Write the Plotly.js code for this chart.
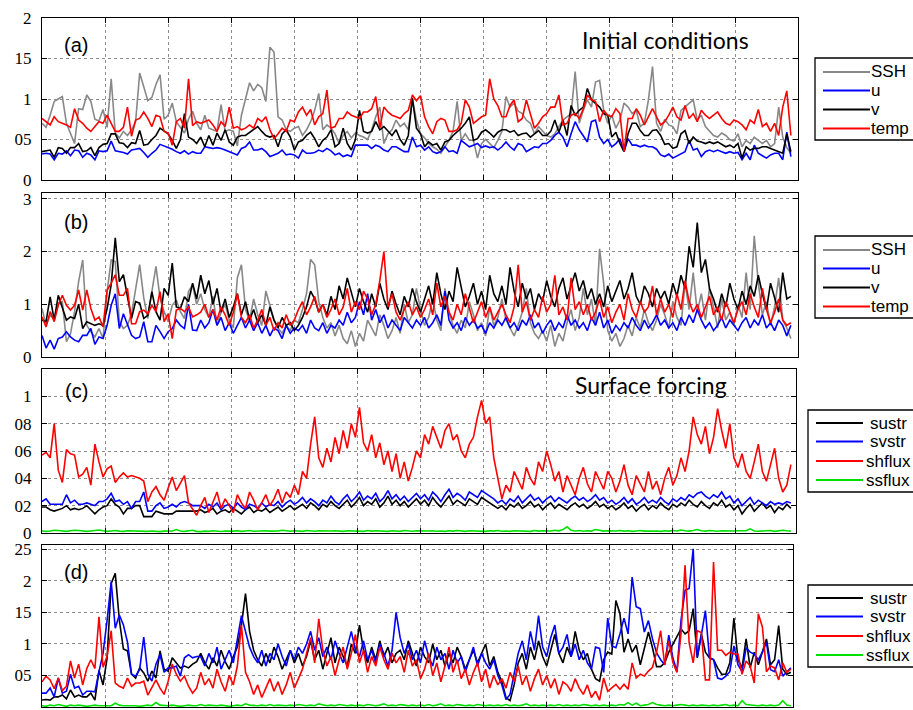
<!DOCTYPE html>
<html><head><meta charset="utf-8">
<script src="https://cdn.plot.ly/plotly-3.0.1.min.js"></script>
<style>html,body{margin:0;padding:0;background:#fff}#chart{width:913px;height:710px}</style>
</head><body><div id="chart"></div>
<script>
// ---------- Panel (a): Initial conditions ----------
const a_SSH = [
0.70,0.65,0.80,0.97,1.00,1.03,0.70,0.58,0.45,0.88,0.87,1.05,0.97,0.75,0.73,0.87,
0.65,1.25,0.58,0.52,0.60,0.55,0.62,0.72,1.32,1.15,0.98,1.02,1.18,1.30,0.75,
0.80,0.95,0.72,0.65,0.58,0.75,0.85,0.70,0.62,0.80,0.64,0.62,0.60,0.93,0.60,0.62,
0.60,0.42,0.80,1.00,1.20,1.10,1.18,1.14,0.97,1.64,1.58,0.78,0.74,0.62,0.60,
0.64,0.66,0.55,0.62,0.72,0.86,1.07,0.62,0.68,0.64,0.57,0.45,0.55,0.60,0.52,0.58,
0.55,0.53,0.50,0.62,0.78,0.90,0.45,0.57,0.62,0.74,0.66,0.70,0.62,1.00,0.74,
0.57,0.52,0.45,0.41,0.38,0.33,0.41,0.49,0.60,0.97,0.49,0.57,0.49,0.49,0.27,0.45,
0.50,0.45,0.40,0.49,0.60,1.03,0.90,0.95,0.85,0.82,0.74,0.70,0.57,0.66,0.60,
0.55,0.53,0.57,0.66,0.74,0.78,0.82,1.34,0.70,0.86,0.99,0.90,1.21,1.23,0.86,0.70,
0.80,0.64,0.74,0.95,0.90,0.82,0.86,0.66,0.70,0.99,1.40,0.70,0.60,0.75,0.68,
0.66,0.57,0.86,0.90,0.95,0.99,0.74,0.80,0.66,0.60,0.55,0.53,0.58,0.55,0.50,0.48,
0.57,0.41,0.49,0.45,0.53,0.49,0.45,0.49,0.41,0.45,0.90,0.53,0.40,0.33];
const a_u = [
0.32,0.33,0.32,0.25,0.33,0.32,0.36,0.30,0.37,0.36,0.28,0.33,0.31,0.25,0.36,0.35,
0.36,0.48,0.36,0.35,0.34,0.32,0.37,0.38,0.39,0.34,0.28,0.33,0.37,0.44,0.42,
0.40,0.38,0.35,0.33,0.36,0.32,0.35,0.33,0.33,0.41,0.40,0.39,0.40,0.39,0.37,0.35,
0.33,0.31,0.39,0.41,0.47,0.37,0.37,0.39,0.35,0.29,0.31,0.33,0.37,0.31,0.32,
0.31,0.27,0.37,0.33,0.33,0.34,0.37,0.35,0.39,0.36,0.31,0.33,0.29,0.31,0.29,0.43,
0.43,0.43,0.43,0.39,0.43,0.41,0.37,0.35,0.41,0.41,0.38,0.35,0.35,0.53,0.41,
0.43,0.37,0.41,0.35,0.33,0.35,0.41,0.35,0.36,0.33,0.49,0.45,0.41,0.43,0.45,0.40,
0.42,0.40,0.41,0.37,0.41,0.47,0.41,0.37,0.45,0.43,0.35,0.38,0.41,0.40,0.45,
0.45,0.49,0.55,0.59,0.53,0.41,0.57,0.72,0.62,0.55,0.47,0.72,0.74,0.53,0.45,0.50,
0.41,0.45,0.51,0.35,0.51,0.43,0.43,0.41,0.43,0.41,0.41,0.38,0.31,0.29,0.32,
0.27,0.30,0.33,0.35,0.49,0.37,0.39,0.29,0.35,0.37,0.35,0.37,0.35,0.33,0.35,0.33,
0.34,0.25,0.33,0.25,0.43,0.33,0.30,0.27,0.31,0.33,0.33,0.25,0.59,0.29];
const a_v = [
0.35,0.36,0.37,0.28,0.40,0.39,0.33,0.40,0.40,0.45,0.35,0.36,0.40,0.30,0.40,0.44,
0.45,0.57,0.57,0.46,0.45,0.40,0.46,0.45,0.61,0.43,0.44,0.50,0.55,0.64,0.61,
0.57,0.49,0.39,0.50,0.82,0.53,0.50,0.45,0.53,0.41,0.55,0.43,0.58,0.49,0.62,0.47,
0.43,0.53,0.55,0.55,0.59,0.62,0.66,0.60,0.55,0.53,0.55,0.41,0.57,0.62,0.53,
0.37,0.47,0.49,0.55,0.59,0.51,0.41,0.49,0.53,0.62,0.41,0.45,0.64,0.45,0.37,0.50,
0.86,0.60,0.58,0.60,0.72,0.62,0.66,0.60,0.55,0.62,0.50,0.43,0.55,1.01,0.64,
0.57,0.41,0.47,0.43,0.45,0.37,0.47,0.49,0.55,0.59,0.64,0.70,0.78,0.49,0.51,0.59,
0.62,0.58,0.53,0.59,0.62,0.62,0.59,0.61,0.55,0.57,0.58,0.53,0.57,0.61,0.55,
0.55,0.60,0.74,0.59,0.74,0.55,0.92,0.80,0.86,0.90,1.13,0.99,0.95,0.90,0.82,0.80,
0.53,0.59,0.45,0.35,0.57,0.70,0.70,0.61,0.55,0.55,0.61,0.62,0.55,0.44,0.45,
0.39,0.41,0.57,0.61,0.45,0.53,0.48,0.47,0.45,0.47,0.45,0.47,0.44,0.41,0.43,0.40,
0.45,0.27,0.41,0.37,0.39,0.39,0.41,0.41,0.39,0.37,0.35,0.33,0.57,0.35];
const a_temp = [
0.76,0.72,0.68,0.78,0.72,0.70,0.68,0.65,0.88,0.74,0.70,0.64,0.60,0.66,0.72,0.70,
0.80,0.70,0.60,0.60,0.65,0.90,0.54,0.74,0.76,0.84,0.76,0.66,0.80,0.78,0.60,
0.58,0.43,0.72,0.76,0.64,1.25,0.67,0.72,0.70,0.72,0.74,0.68,0.60,0.72,0.66,0.90,
0.64,0.66,0.62,0.64,0.68,0.64,0.76,0.72,0.78,0.62,0.51,0.57,0.64,0.60,0.74,
0.72,0.84,0.90,0.80,0.87,0.68,0.78,0.82,1.11,0.64,0.66,0.76,0.76,0.84,0.80,0.78,
0.76,0.84,0.84,0.88,1.03,0.64,0.90,0.84,0.80,0.78,0.76,0.82,0.86,1.05,0.98,
1.04,0.78,0.66,0.57,0.72,0.76,0.74,0.60,0.60,0.62,0.70,0.99,0.90,0.70,0.74,0.78,
0.80,1.25,1.00,0.92,0.78,0.78,0.92,0.99,0.72,0.76,0.99,0.80,0.64,0.70,0.78,
0.82,0.90,0.90,1.05,0.68,0.70,0.80,0.82,0.76,0.88,1.05,0.99,0.97,0.72,0.86,0.80,
0.78,0.88,0.82,0.35,0.76,0.76,0.88,0.80,0.68,0.78,0.88,0.78,0.68,0.72,0.80,
0.90,0.78,0.74,0.92,0.76,0.82,0.72,0.86,0.80,0.76,0.80,0.84,0.76,0.70,0.68,0.74,
0.72,0.68,0.62,0.74,0.70,0.87,0.66,0.70,0.60,0.70,0.55,0.90,1.10,0.55];

// ---------- Panel (b) ----------
const b_SSH = [
0.92,0.60,0.79,0.73,1.02,1.05,0.29,0.44,0.86,1.43,1.84,0.60,0.48,0.38,0.54,0.35,1.24,1.84,1.81,0.67,
0.54,0.60,0.82,1.30,1.75,1.12,0.73,1.24,1.72,1.12,0.86,0.67,0.98,1.08,0.86,0.73,1.24,1.37,1.00,
1.20,0.90,0.75,1.15,0.60,0.85,1.00,0.70,0.55,1.50,1.75,0.90,0.70,1.10,0.80,
0.60,1.25,0.95,0.70,0.55,0.45,0.60,0.50,0.70,0.65,
0.90,1.20,1.85,1.75,1.05,0.75,0.55,0.65,0.40,0.60,
0.35,0.25,0.50,0.20,0.45,0.30,0.70,0.55,0.40,0.80,0.60,0.35,0.50,0.75,0.45,1.00,0.65,0.80,1.30,0.90,
0.60,0.75,1.10,0.70,0.50,1.30,0.85,0.60,0.45,0.70,0.55,1.05,0.80,0.50,0.65,0.40,0.95,0.60,0.75,
1.10,0.70,0.55,0.40,0.60,0.85,1.30,0.65,0.45,0.35,0.50,0.30,0.60,0.20,0.45,0.30,0.65,0.90,0.50,0.75,
1.30,0.80,1.10,0.60,2.05,1.40,0.50,0.30,0.45,0.20,0.35,0.60,0.40,0.75,0.55,0.90,0.65,0.50,0.70,1.00,
0.80,0.55,1.05,0.75,0.60,1.40,0.90,1.60,0.85,1.20,0.70,1.30,0.95,0.55,1.10,0.70,0.85,0.60,1.00,
0.75,1.60,0.90,2.30,1.40,0.80,1.05,0.60,0.95,1.50,0.70,0.55,0.35];
const b_u = [
0.41,0.17,0.32,0.15,0.35,0.38,0.48,0.38,0.32,0.29,0.41,0.41,0.54,0.24,0.38,0.35,0.60,0.98,1.20,0.54,
0.82,0.60,0.41,0.35,0.38,0.67,0.29,0.29,0.60,0.48,0.35,0.48,0.54,0.70,0.60,0.54,1.00,0.51,0.50,
0.70,0.55,0.65,0.90,0.60,0.75,0.50,0.65,0.45,0.60,0.75,0.55,0.70,0.50,0.65,
0.45,0.60,0.40,0.55,0.50,0.35,0.60,0.45,0.55,0.50,
0.60,0.45,0.70,0.55,0.50,0.65,0.45,0.60,0.55,0.70,
0.60,0.85,0.65,0.75,1.05,0.80,1.20,0.70,0.90,0.65,0.80,0.55,0.70,0.60,0.50,0.75,0.65,0.55,0.70,0.60,
0.75,0.55,0.65,0.80,0.60,1.25,0.70,0.55,0.65,0.50,0.75,0.60,0.70,0.55,0.60,0.45,0.65,0.55,0.70,
0.60,0.75,0.55,0.65,0.50,0.70,0.60,0.80,0.55,0.65,0.45,0.60,0.70,0.50,0.65,0.55,0.80,0.60,0.70,0.55,
0.65,0.50,0.75,0.60,0.85,0.55,0.70,0.45,0.60,0.50,0.65,0.55,0.75,0.60,0.50,0.70,0.55,0.65,0.80,0.60,
0.70,0.55,0.65,0.50,0.75,0.60,0.80,0.65,0.90,0.70,0.55,0.65,0.50,0.60,0.75,0.55,0.70,0.60,0.50,
0.65,0.75,0.55,0.70,0.60,0.80,0.55,0.65,0.50,0.70,0.60,0.40,0.60];
const b_v = [
0.70,0.67,1.14,0.70,1.17,0.92,0.70,0.76,0.73,1.00,0.54,0.67,0.63,0.60,0.63,0.60,0.92,1.37,2.26,1.43,
1.56,1.17,0.73,1.05,1.02,0.73,0.79,1.24,0.86,0.70,1.30,1.17,1.78,0.95,0.92,1.14,1.05,1.40,1.10,
1.55,1.20,1.45,1.00,1.30,0.85,1.10,0.75,0.95,1.20,0.80,1.05,0.70,0.90,0.65,
0.80,0.60,0.95,0.70,0.55,0.75,0.60,0.65,0.50,0.60,
0.75,0.95,1.25,1.10,0.85,1.00,0.80,1.15,0.90,1.35,
1.10,1.50,1.20,0.95,1.30,1.05,0.85,1.20,0.95,1.40,1.10,0.90,1.25,1.00,0.80,1.15,0.95,1.30,1.05,0.85,
1.10,1.35,1.00,1.60,1.20,0.90,1.25,1.05,1.70,1.30,0.95,1.15,1.40,1.00,1.25,0.90,1.55,1.20,1.05,
1.35,1.00,1.70,1.25,0.95,1.40,1.10,1.30,0.90,1.20,1.05,1.45,1.15,0.95,1.30,1.50,1.10,1.35,1.60,1.25,
1.45,1.10,1.30,1.00,1.20,0.95,1.35,1.05,1.25,1.45,1.10,1.30,1.60,1.15,1.00,1.35,1.20,0.95,1.30,1.10,
1.25,1.00,1.40,1.15,1.55,1.30,2.10,1.70,2.55,1.60,1.85,1.30,1.10,0.85,1.20,0.95,1.40,1.10,0.90,
1.25,1.00,1.35,1.15,1.55,1.20,0.90,1.40,1.10,0.85,1.60,1.10,1.15];
const b_temp = [
0.76,0.57,0.86,0.67,0.98,1.17,0.98,0.89,0.98,1.27,0.89,1.27,0.92,0.70,0.76,0.57,1.27,1.40,1.56,1.17,
1.17,1.30,0.63,0.63,0.86,0.89,0.82,0.98,0.86,1.24,0.67,0.82,0.35,0.89,0.92,0.86,0.95,0.76,0.80,
0.85,1.00,0.75,0.90,0.70,0.95,0.80,0.60,0.85,1.20,0.75,0.65,0.80,0.55,0.70,
0.90,0.60,0.75,0.50,0.65,0.55,0.80,0.60,0.70,0.90,
1.05,0.80,0.95,1.15,0.85,1.00,0.75,0.90,1.10,0.80,
0.95,1.30,0.85,1.05,0.90,1.25,1.10,0.80,1.00,1.45,2.00,0.95,1.20,0.85,0.70,0.90,1.05,0.80,0.95,0.75,
0.90,1.10,0.80,1.40,0.95,1.15,0.85,0.70,1.00,0.80,1.20,0.90,0.65,0.85,1.05,0.75,0.95,0.70,0.85,
1.00,0.80,0.65,0.95,1.75,0.85,1.05,0.70,0.90,0.75,1.15,0.85,1.00,1.55,0.80,0.95,0.70,1.50,0.90,1.05,
0.80,1.00,0.70,0.85,1.10,0.75,0.95,0.65,0.85,1.00,0.70,1.20,0.90,0.75,1.05,0.85,0.95,1.35,0.80,1.10,
0.85,1.00,0.75,1.20,0.90,1.45,1.05,0.85,1.00,0.75,0.95,1.15,0.80,0.95,0.70,1.05,0.85,0.65,0.90,
1.05,0.80,1.20,0.95,0.75,1.30,0.90,0.65,0.85,1.10,0.70,0.60,0.65];

// ---------- Panel (c): Surface forcing ----------
const c_sustr = [
0.19,0.19,0.17,0.16,0.17,0.18,0.20,0.17,0.18,0.17,0.18,0.20,0.17,0.14,0.17,0.19,0.20,0.25,0.21,0.19,
0.14,0.18,0.18,0.20,0.20,0.12,0.12,0.12,0.16,0.15,0.14,0.14,0.14,0.16,0.16,0.16,0.16,0.16,0.16,
0.17,0.15,0.16,0.18,0.14,0.16,0.17,0.15,0.18,0.16,0.14,0.17,0.19,0.15,0.17,0.16,0.18,0.15,0.17,0.19,0.16,0.18,0.20,
0.17,0.19,0.21,0.18,0.22,0.20,0.17,0.21,0.19,0.23,0.20,0.18,
0.21,0.24,0.19,0.22,0.26,0.20,0.23,0.21,0.25,0.19,0.22,0.27,0.21,0.24,0.20,
0.23,0.19,0.22,0.25,0.21,0.24,0.20,0.26,0.22,0.19,0.23,0.27,0.21,0.24,0.22,0.20,0.25,0.23,0.21,0.26,0.24,0.22,0.20,0.18,
0.20,0.17,0.21,0.19,0.22,0.18,0.20,0.23,0.19,0.21,0.17,0.20,0.22,0.18,0.21,0.19,0.17,0.20,0.22,0.19,0.21,0.18,0.20,0.23,0.19,
0.21,0.18,0.20,0.17,0.19,0.22,0.18,0.20,0.16,0.19,0.21,0.17,0.20,0.18,0.22,0.19,0.17,0.21,0.19,0.22,0.20,0.24,
0.21,0.19,0.23,0.20,0.18,0.22,0.20,0.24,0.19,0.21,0.17,0.20,0.14,0.18,0.21,0.16,0.19,0.22,0.18,0.20,0.15,0.19,0.17,0.21,0.18];
const c_svstr = [
0.23,0.25,0.21,0.21,0.21,0.21,0.28,0.22,0.24,0.21,0.21,0.22,0.21,0.20,0.23,0.23,0.25,0.29,0.23,0.24,
0.21,0.23,0.18,0.23,0.23,0.30,0.16,0.16,0.20,0.22,0.18,0.19,0.21,0.19,0.22,0.23,0.22,0.20,0.20,
0.20,0.18,0.21,0.19,0.22,0.17,0.20,0.21,0.18,0.22,0.19,0.17,0.21,0.20,0.18,0.22,0.19,0.21,0.20,0.23,0.19,0.22,0.24,
0.21,0.23,0.26,0.22,0.25,0.23,0.20,0.24,0.22,0.27,0.23,0.21,
0.25,0.28,0.23,0.26,0.30,0.24,0.27,0.25,0.29,0.23,0.26,0.31,0.25,0.28,0.24,
0.27,0.23,0.26,0.29,0.25,0.28,0.24,0.30,0.27,0.23,0.28,0.32,0.26,0.29,0.27,0.24,0.30,0.28,0.26,0.31,0.29,0.27,0.25,0.22,
0.24,0.21,0.25,0.23,0.27,0.22,0.25,0.28,0.24,0.26,0.22,0.25,0.27,0.23,0.26,0.24,0.22,0.25,0.27,0.24,0.26,0.23,0.25,0.28,0.24,
0.26,0.22,0.24,0.21,0.23,0.26,0.22,0.25,0.21,0.23,0.26,0.22,0.24,0.22,0.26,0.23,0.21,0.25,0.23,0.26,0.24,0.28,
0.26,0.29,0.30,0.27,0.25,0.28,0.26,0.30,0.25,0.27,0.22,0.25,0.20,0.23,0.26,0.21,0.24,0.22,0.20,0.23,0.21,0.22,0.21,0.23,0.22];
const c_shflux = [
0.57,0.59,0.55,0.80,0.46,0.37,0.61,0.58,0.57,0.41,0.43,0.48,0.35,0.65,0.52,0.41,0.47,0.49,0.37,0.41,
0.44,0.41,0.42,0.41,0.40,0.38,0.23,0.30,0.34,0.28,0.24,0.33,0.41,0.31,0.37,0.42,0.22,0.17,0.13,
0.20,0.26,0.15,0.22,0.30,0.18,0.25,0.20,0.15,0.28,0.22,0.18,0.30,0.24,0.17,0.22,0.28,0.20,0.25,0.32,0.22,0.30,0.26,
0.35,0.28,0.45,0.40,0.65,0.85,0.55,0.48,0.62,0.52,0.70,0.58,
0.75,0.62,0.80,0.70,0.92,0.66,0.60,0.72,0.55,0.66,0.50,0.60,0.45,0.58,0.40,
0.52,0.38,0.48,0.60,0.55,0.72,0.65,0.78,0.70,0.62,0.75,0.80,0.68,0.72,0.60,0.55,0.65,0.70,0.85,0.97,0.80,0.85,0.55,0.40,
0.25,0.35,0.30,0.45,0.38,0.32,0.48,0.40,0.35,0.52,0.45,0.60,0.50,0.38,0.45,0.30,0.42,0.35,0.28,0.40,0.48,0.36,0.30,0.45,0.38,
0.32,0.45,0.40,0.30,0.38,0.50,0.35,0.28,0.42,0.36,0.30,0.45,0.32,0.38,0.28,0.40,0.48,0.35,0.42,0.55,0.45,0.60,
0.85,0.72,0.65,0.78,0.58,0.70,0.91,0.75,0.62,0.80,0.55,0.48,0.58,0.45,0.40,0.52,0.65,0.45,0.38,0.50,0.62,0.40,0.30,0.35,0.50];
const c_ssflux = [
0.015,0.012,0.015,0.020,0.018,0.015,0.012,0.016,0.020,0.018,0.014,0.012,0.015,0.018,0.022,0.016,
0.012,0.015,0.018,0.014,0.012,0.016,0.015,0.012,0.014,0.010,0.012,0.015,0.013,0.010,0.014,
0.012,0.015,0.025,0.015,0.012,0.014,0.020,0.012,0.010,0.014,0.012,0.016,0.013,0.011,0.015,0.012,
0.014,0.016,0.012,0.015,0.018,0.013,0.015,0.012,0.016,0.014,0.012,0.015,0.020,0.015,0.013,
0.016,0.014,0.012,0.018,0.015,0.013,0.016,0.014,0.012,0.015,0.017,0.014,0.012,0.016,0.014,0.013,
0.015,0.012,0.018,0.014,0.016,0.013,0.015,0.012,0.016,0.014,0.012,0.018,0.015,0.013,0.016,
0.014,0.012,0.015,0.017,0.013,0.015,0.012,0.016,0.014,0.018,0.015,0.012,0.016,0.014,0.013,0.015,
0.012,0.016,0.014,0.018,0.013,0.015,0.012,0.016,0.014,0.013,0.015,0.012,0.018,0.014,0.016,
0.013,0.015,0.020,0.016,0.025,0.045,0.020,0.015,0.018,0.013,0.016,0.014,0.025,0.018,0.014,0.016,
0.013,0.015,0.018,0.014,0.016,0.012,0.015,0.018,0.014,0.016,0.013,0.015,0.012,0.016,0.014,
0.018,0.015,0.022,0.016,0.014,0.018,0.025,0.016,0.014,0.018,0.015,0.013,0.016,0.014,0.012,0.015,
0.017,0.014,0.016,0.030,0.015,0.013,0.016,0.014,0.018,0.012,0.015,0.020,0.016,0.014];

// ---------- Panel (d) ----------
const d_sustr = [
0.11,0.12,0.11,0.16,0.16,0.19,0.13,0.27,0.16,0.19,0.16,0.16,0.22,0.11,0.58,0.35,0.78,1.96,2.12,1.38,
0.92,0.89,0.52,0.46,0.62,0.54,0.41,0.57,0.46,0.89,0.60,0.57,0.78,0.70,0.62,0.65,0.62,0.68,0.72,
0.85,0.70,0.60,0.78,0.65,0.90,0.72,0.60,0.80,0.95,1.30,
1.80,1.20,0.90,0.75,0.65,0.85,0.70,0.95,0.80,0.60,0.75,0.90,0.70,0.85,
0.65,0.80,1.05,0.75,0.90,0.60,0.85,1.10,0.70,0.95,0.80,0.65,1.00,0.85,1.30,0.90,0.70,0.95,0.75,1.05,0.80,0.95,0.70,0.85,
0.90,0.75,1.05,0.85,0.65,0.95,0.80,0.70,1.00,0.75,0.90,0.65,0.85,0.70,0.95,0.80,0.60,0.75,0.90,0.70,0.85,1.00,0.65,0.80,0.55,
0.40,0.15,0.10,0.35,0.70,0.85,0.60,0.95,0.75,1.05,0.80,0.65,0.90,1.15,0.85,0.70,0.95,0.80,1.20,0.90,0.75,0.85,0.60,0.45,
0.41,0.75,0.87,0.84,1.69,1.48,0.87,1.08,0.87,0.98,0.67,0.94,1.19,0.94,0.64,0.64,0.70,0.87,1.00,1.11,1.24,1.16,1.21,1.56,
0.78,1.16,0.87,0.78,0.75,0.62,0.52,0.52,0.70,1.41,0.75,0.62,1.08,0.62,0.87,0.67,0.87,1.08,0.67,0.75,1.29,0.60,0.52,0.55];
const d_svstr = [
0.22,0.22,0.30,0.16,0.46,0.22,0.25,0.52,0.30,0.33,0.19,0.25,0.25,0.24,0.56,0.85,1.38,1.99,1.25,1.46,
1.30,1.03,0.52,0.49,0.60,1.11,0.52,0.41,0.68,0.83,0.55,0.62,0.62,0.65,0.49,0.78,0.83,0.78,0.80,
0.80,0.65,0.85,0.70,0.95,0.60,0.75,0.90,0.70,1.05,1.45,
1.20,0.95,0.80,0.70,0.90,0.65,0.85,0.75,1.00,0.80,0.65,0.90,0.75,0.95,
0.85,1.00,1.20,0.90,1.10,0.80,0.95,0.75,1.05,0.85,0.70,0.95,1.20,0.90,0.80,1.05,0.75,0.90,0.70,1.00,0.85,0.65,0.90,1.50,
1.10,0.85,1.00,0.75,0.90,0.70,1.05,0.80,0.65,0.95,0.75,0.85,0.60,0.90,0.70,0.80,0.55,0.75,0.95,0.65,0.85,0.70,0.60,0.75,0.50,
0.35,0.12,0.20,0.50,0.85,1.05,0.75,1.20,0.90,1.45,0.95,0.80,1.10,1.30,0.85,0.95,1.15,0.80,1.00,0.75,0.90,0.70,0.60,0.95,
0.93,0.55,1.41,0.97,0.94,1.16,1.41,1.16,2.06,1.59,1.56,1.19,1.37,1.08,0.86,0.75,0.67,1.14,0.78,0.56,1.37,1.85,1.88,2.51,
0.79,1.14,1.53,0.78,0.75,0.46,0.44,0.49,0.56,0.97,0.67,0.56,0.94,0.87,0.84,0.75,0.87,1.02,0.59,0.56,0.75,0.49,0.55,0.62];
const d_shflux = [
0.40,0.49,0.43,0.29,0.46,0.26,0.33,0.73,0.46,0.68,0.35,0.61,0.75,0.61,1.43,0.63,0.81,1.21,0.38,0.33,
0.30,0.46,0.33,0.38,0.38,0.41,0.19,0.30,0.43,0.30,0.20,0.41,0.68,0.52,0.41,0.49,0.33,0.22,0.30,
0.55,0.35,0.45,0.30,0.60,0.40,0.25,0.50,0.35,0.65,1.30,
0.55,0.40,0.20,0.35,0.15,0.30,0.45,0.25,0.40,0.20,0.35,0.55,0.30,0.45,
0.60,0.85,1.10,0.70,1.40,0.90,0.65,0.80,0.50,0.75,0.95,0.60,0.85,1.15,0.70,0.90,0.55,0.80,0.65,0.95,0.75,0.60,0.85,0.70,
0.80,0.55,0.90,0.65,0.75,0.45,0.60,0.85,0.50,0.70,0.40,0.65,0.95,0.55,0.75,0.45,0.60,0.35,0.55,0.70,0.40,0.60,0.30,0.50,0.35,
0.45,0.30,0.55,0.40,0.65,0.35,0.50,0.25,0.45,0.60,0.35,0.50,0.30,0.45,0.20,0.40,0.35,0.25,0.45,0.30,0.20,0.35,0.15,0.25,
0.11,0.46,0.25,0.30,0.36,0.28,0.36,0.28,0.70,0.46,0.52,0.49,0.57,0.63,0.87,1.21,0.67,1.05,0.71,0.55,1.16,2.25,1.02,0.70,
1.21,1.18,0.43,0.43,2.30,0.90,0.90,0.82,0.87,0.84,0.84,0.52,0.73,0.65,0.38,1.48,1.27,0.56,0.65,0.62,0.43,0.70,0.55,0.60];
const d_ssflux = [
0.02,0.01,0.03,0.02,0.04,0.02,0.01,0.03,0.02,0.03,0.02,0.01,0.02,0.03,0.02,0.02,
0.03,0.02,0.06,0.03,0.02,0.02,0.03,0.02,0.01,0.02,0.03,0.02,0.07,0.03,0.02,
0.02,0.03,0.02,0.01,0.02,0.03,0.02,0.02,0.04,0.02,0.03,0.02,0.02,0.03,0.02,0.01,
0.02,0.03,0.02,0.05,0.03,0.02,0.02,0.03,0.02,0.04,0.02,0.03,0.02,0.02,0.03,
0.02,0.04,0.03,0.02,0.03,0.02,0.05,0.03,0.02,0.03,0.02,0.04,0.03,0.02,0.03,0.02,
0.03,0.02,0.04,0.03,0.02,0.03,0.05,0.02,0.03,0.02,0.04,0.03,0.02,0.03,0.02,
0.03,0.02,0.04,0.02,0.03,0.05,0.02,0.03,0.02,0.04,0.03,0.02,0.03,0.02,0.04,0.03,
0.02,0.03,0.02,0.03,0.02,0.04,0.02,0.03,0.02,0.03,0.05,0.02,0.03,0.02,0.03,
0.02,0.03,0.02,0.04,0.02,0.03,0.02,0.03,0.02,0.04,0.03,0.02,0.03,0.02,0.03,0.02,
0.03,0.02,0.04,0.03,0.07,0.03,0.06,0.02,0.03,0.04,0.07,0.04,0.03,0.02,0.03,
0.02,0.03,0.04,0.03,0.02,0.03,0.02,0.03,0.02,0.02,0.03,0.02,0.03,0.04,0.02,0.03,
0.02,0.10,0.04,0.03,0.03,0.02,0.03,0.02,0.03,0.02,0.03,0.10,0.03,0.02];

// ---------- names, labels, ticks ----------
const namesAB = ["SSH", "u", "v", "temp"];
const namesCD = ["sustr", "svstr", "shflux", "ssflux"];
const panelLabels = ["(a)", "(b)", "(c)", "(d)"];
const titleA = "Initial conditions";
const titleC = "Surface forcing";
const yTicksA = [0, 0.5, 1, 1.5, 2], yTextA = ["0", "05", "1", "15", "2"];
const yTicksB = [0, 1, 2, 3],        yTextB = ["0", "1", "2", "3"];
const yTicksC = [0, 0.2, 0.4, 0.6, 0.8, 1], yTextC = ["0", "02", "04", "06", "08", "1"];
const yTicksD = [0, 0.5, 1, 1.5, 2, 2.5], yTextD = ["0", "05", "1", "15", "2", "25"];

// ---------- styling / layout ----------
const W = 913, H = 710;
const px = x => x / W, py = y => 1 - y / H;
const colAB = ["#888888", "#0000ff", "#000000", "#ff0000"];
const colCD = ["#000000", "#0000ff", "#ff0000", "#00e000"];
const idx = arr => arr.map((_, i) => i);
const STEP = 15.48;
const gridX = Array.from({length: 13}, (_, k) => k * STEP);

function mk(arr, name, color, xa, ya) {
  return {x: idx(arr), y: arr, name: name, type: 'scatter', mode: 'lines', showlegend: false,
    line: {color: color, width: 1.6}, xaxis: xa, yaxis: ya, hoverinfo: 'skip'};
}
const panels = [
  {xa: 'x', ya: 'y', names: namesAB, cols: colAB, data: [a_SSH, a_u, a_v, a_temp]},
  {xa: 'x2', ya: 'y2', names: namesAB, cols: colAB, data: [b_SSH, b_u, b_v, b_temp]},
  {xa: 'x3', ya: 'y3', names: namesCD, cols: colCD, data: [c_sustr, c_svstr, c_shflux, c_ssflux]},
  {xa: 'x4', ya: 'y4', names: namesCD, cols: colCD, data: [d_sustr, d_svstr, d_shflux, d_ssflux]}
];
const traces = [];
panels.forEach(p => p.data.forEach((arr, k) => traces.push(mk(arr, p.names[k], p.cols[k], p.xa, p.ya))));

const common = {ticks: 'inside', ticklen: 5, tickcolor: '#000', tickwidth: 1, mirror: 'ticks',
  showline: true, linecolor: '#000', linewidth: 1.2, showgrid: true, gridcolor: '#8c8c8c',
  griddash: 'dot', gridwidth: 1, zeroline: false, fixedrange: true};
function xax(l, r, anchor) {
  return Object.assign({}, common, {domain: [px(l), px(r)], anchor: anchor, range: [0, (r - l) / 4.07],
    tickvals: gridX, showticklabels: false});
}
function yax(top, bot, anchor, range, tv, tt) {
  return Object.assign({}, common, {domain: [py(bot), py(top)], anchor: anchor, range: range,
    tickvals: tv, ticktext: tt, ticklabelstandoff: 6,
    tickfont: {family: 'Times New Roman, Liberation Serif, serif', size: 17, color: '#000'}});
}
const sans = 'Liberation Sans, Arial, sans-serif';
function lab(t, x, y, size, fam, anchor) {
  return {text: t, x: px(x), y: py(y), xref: 'paper', yref: 'paper', showarrow: false,
    xanchor: anchor || 'center', yanchor: 'middle', font: {family: fam, size: size, color: '#000'}};
}
// legend boxes (drawn as layout shapes + annotations, clipped at the right edge like the reference)
const shapes = [], annotations = [];
function legendBox(left, top, bottom, lx0, lx1, ys, names, cols, textX) {
  shapes.push({type: 'rect', xref: 'paper', yref: 'paper', x0: px(left), x1: px(left + 140),
    y0: py(bottom), y1: py(top), line: {color: '#000', width: 1.3}, fillcolor: '#fff', layer: 'above'});
  names.forEach((n, k) => {
    shapes.push({type: 'line', xref: 'paper', yref: 'paper', x0: px(lx0), x1: px(lx1),
      y0: py(ys[k]), y1: py(ys[k]), line: {color: cols[k], width: 2}, layer: 'above'});
    annotations.push(lab(n, textX[k], ys[k], 17, sans, 'left'));
  });
}
legendBox(815, 58, 140, 823, 870, [72, 90.5, 109.5, 128.5], namesAB, colAB, [869, 869, 869, 869]);
legendBox(815, 236, 318, 823, 870, [250, 268.5, 287.5, 306.5], namesAB, colAB, [869, 869, 869, 869]);
legendBox(808, 410, 492, 816, 863, [423, 441.5, 461, 480], namesCD, colCD, [868, 868, 864, 864]);
legendBox(808, 585, 667, 816, 863, [598, 616.5, 636, 655], namesCD, colCD, [868, 868, 864, 864]);

annotations.push(lab(panelLabels[0], 76, 45, 20, sans), lab(panelLabels[1], 76, 222, 20, sans),
  lab(panelLabels[2], 76, 391, 20, sans), lab(panelLabels[3], 76, 572, 20, sans),
  lab(titleA, 665, 40, 23, 'Lato, Open Sans, sans-serif'),
  lab(titleC, 651, 385, 23, 'Lato, Open Sans, sans-serif'));

const layout = {
  width: W, height: H, margin: {l: 0, r: 0, t: 0, b: 0, autoexpand: false},
  paper_bgcolor: '#fff', plot_bgcolor: '#fff', showlegend: false,
  xaxis: xax(42, 798, 'y'), yaxis: yax(18, 180, 'x', [0, 2], yTicksA, yTextA),
  xaxis2: xax(42, 798, 'y2'), yaxis2: yax(193, 357, 'x2', [0, 3.11], yTicksB, yTextB),
  xaxis3: xax(42, 796, 'y3'), yaxis3: yax(369, 533, 'x3', [0, 1.2], yTicksC, yTextC),
  xaxis4: xax(42, 793, 'y4'), yaxis4: yax(545, 707, 'x4', [0, 2.57], yTicksD, yTextD),
  shapes: shapes, annotations: annotations
};
Plotly.newPlot('chart', traces, layout, {displayModeBar: false, staticPlot: true});
</script></body></html>
